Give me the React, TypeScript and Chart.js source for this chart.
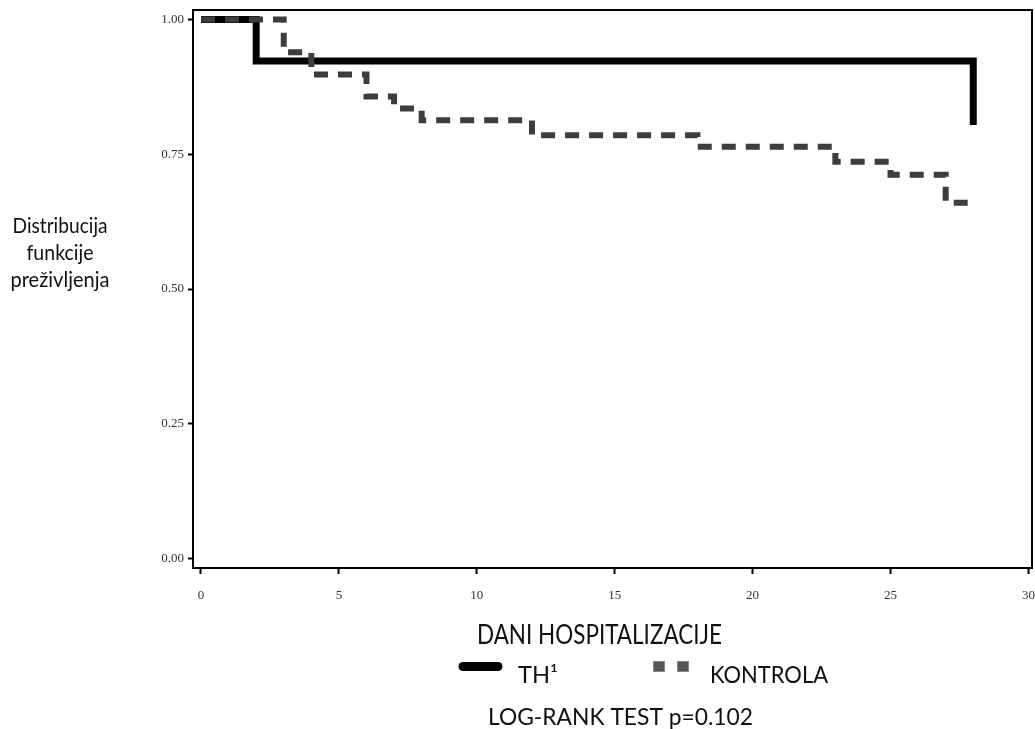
import React, { useEffect, useRef } from 'react';
import { Chart, registerables } from 'chart.js';

Chart.register(...registerables);

// ---- data ----
const thDays = [0, 2, 28];
const thSurvival = [1.0, 0.923, 0.804];
const kontrolaDays = [0, 3, 4, 6, 7, 8, 12, 18, 23, 25, 27, 28];
const kontrolaSurvival = [1.0, 0.939, 0.898, 0.857, 0.835, 0.813, 0.785, 0.764, 0.736, 0.712, 0.66, 0.66];
const xTickValues = [0, 5, 10, 15, 20, 25, 30];
const yTickValues = [0, 0.25, 0.5, 0.75, 1.0];
const seriesLabels = ['TH\u00B9', 'KONTROLA'];
const xTitle = 'DANI HOSPITALIZACIJE';
const yTitleLines = ['Distribucija', 'funkcije', 'preživljenja'];
const testNote = 'LOG-RANK TEST p=0.102';

const TEXT_FONT = 'Lato, "Liberation Sans", sans-serif';

function fitText(
  ctx: CanvasRenderingContext2D,
  text: string,
  left: number,
  baseline: number,
  size: number,
  width: number,
  color = '#111'
) {
  ctx.save();
  ctx.font = `${size}px ${TEXT_FONT}`;
  const w = ctx.measureText(text).width || 1;
  ctx.translate(left, baseline);
  ctx.scale(width / w, 1);
  ctx.textAlign = 'left';
  ctx.textBaseline = 'alphabetic';
  ctx.fillStyle = color;
  ctx.fillText(text, 0, 0);
  ctx.restore();
}

const decorPlugin = {
  id: 'decor',
  afterDatasetsDraw(chart: any) {
    const { ctx, chartArea } = chart;
    ctx.save();
    ctx.strokeStyle = '#000';
    ctx.lineWidth = 2;
    ctx.strokeRect(chartArea.left, chartArea.top, chartArea.right - chartArea.left, chartArea.bottom - chartArea.top);
    ctx.restore();
  },
  afterDraw(chart: any) {
    const { ctx } = chart;
    const ds = chart.data.datasets;
    // y title (horizontal, three lines)
    const yWidths = [95, 67, 99];
    const yBase = [233, 260, 287];
    yTitleLines.forEach((t, i) => {
      fitText(ctx, t, 60 - yWidths[i] / 2, yBase[i], 21, yWidths[i]);
    });
    // x title
    fitText(ctx, xTitle, 477, 644, 26, 245);
    // legend
    const th = ds.find((d: any) => d.label === seriesLabels[0]);
    const ko = ds.find((d: any) => d.label === seriesLabels[1]);
    ctx.save();
    ctx.strokeStyle = th.borderColor;
    ctx.lineWidth = 9;
    ctx.lineCap = 'round';
    ctx.beginPath();
    ctx.moveTo(463, 666.5);
    ctx.lineTo(498, 666.5);
    ctx.stroke();
    ctx.fillStyle = '#555';
    ctx.strokeStyle = '#888';
    ctx.lineWidth = 1;
    [653, 677].forEach((x) => {
      ctx.fillRect(x, 661, 12, 11);
      ctx.strokeRect(x + 0.5, 661.5, 11, 10);
    });
    ctx.restore();
    fitText(ctx, th.label, 518, 683, 23, 40);
    fitText(ctx, ko.label, 710, 683, 23, 118);
    // test note
    fitText(ctx, testNote, 488, 725, 23, 265);
  },
};

export default function App() {
  const ref = useRef<HTMLCanvasElement | null>(null);

  useEffect(() => {
    if (!ref.current) return;
    const chart = new Chart(ref.current, {
      type: 'line',
      data: {
        datasets: [
          {
            label: seriesLabels[1],
            data: kontrolaDays.map((d, i) => ({ x: d, y: kontrolaSurvival[i] })),
            borderColor: '#3d3d3d',
            borderWidth: 6,
            borderDash: [14, 10],
            borderCapStyle: 'butt',
            stepped: true,
            pointRadius: 0,
            fill: false,
            order: 0,
          },
          {
            label: seriesLabels[0],
            data: thDays.map((d, i) => ({ x: d, y: thSurvival[i] })),
            borderColor: '#000000',
            borderWidth: 7,
            stepped: true,
            pointRadius: 0,
            fill: false,
            order: 1,
          },
        ],
      },
      options: {
        animation: false,
        responsive: false,
        devicePixelRatio: 1,
        layout: { padding: { left: 0, top: 10, right: 3, bottom: 0 } },
        plugins: {
          legend: { display: false },
          tooltip: { enabled: false },
          title: { display: false },
        },
        scales: {
          x: {
            type: 'linear',
            min: -0.29,
            max: 30.13,
            afterBuildTicks: (s: any) => {
              s.ticks = xTickValues.map((v) => ({ value: v }));
            },
            afterFit: (s: any) => {
              s.height = 161;
              s.paddingLeft = 0;
              s.paddingRight = 0;
            },
            ticks: {
              autoSkip: false,
              maxRotation: 0,
              padding: 14,
              color: '#333',
              font: { family: '"Liberation Serif", serif', size: 13 },
              callback: (v: any) => String(v),
            },
            grid: {
              drawOnChartArea: false,
              drawTicks: true,
              tickLength: 6,
              tickWidth: 2,
              tickColor: '#000',
            },
            border: { display: false },
          },
          y: {
            type: 'linear',
            min: -0.0175,
            max: 1.0175,
            afterBuildTicks: (s: any) => {
              s.ticks = yTickValues.map((v) => ({ value: v }));
            },
            afterFit: (s: any) => {
              s.width = 193;
              s.paddingTop = 0;
              s.paddingBottom = 0;
            },
            ticks: {
              padding: 4,
              color: '#333',
              font: { family: '"Liberation Serif", serif', size: 13 },
              callback: (v: any) => Number(v).toFixed(2),
            },
            grid: {
              drawOnChartArea: false,
              drawTicks: true,
              tickLength: 5,
              tickWidth: 2,
              tickColor: '#000',
            },
            border: { display: false },
          },
        },
      },
      plugins: [decorPlugin],
    } as any);
    return () => chart.destroy();
  }, []);

  return (
    <div style={{ position: 'absolute', left: 0, top: 0, width: 1035, height: 729, background: '#fff' }}>
      <canvas ref={ref} width={1035} height={729} style={{ display: 'block', width: 1035, height: 729 }} />
    </div>
  );
}
